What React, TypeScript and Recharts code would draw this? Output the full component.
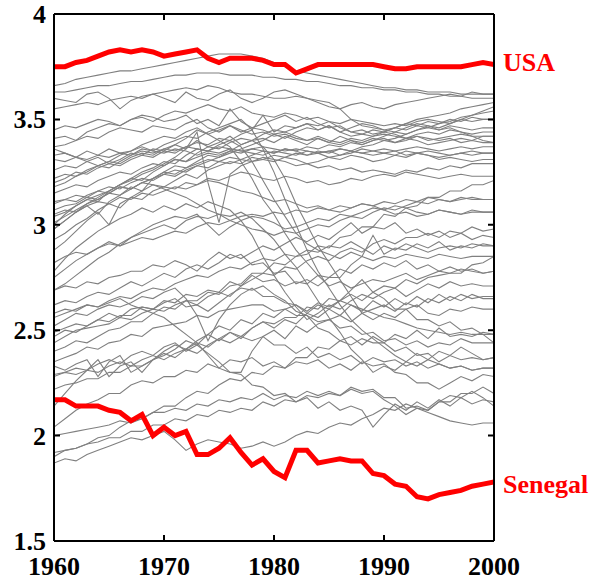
import React from "react";
import { LineChart, Line, XAxis, YAxis, LabelList, ReferenceLine } from "recharts";

const years = [
  1960, 1961, 1962, 1963, 1964, 1965, 1966, 1967, 1968, 1969,
  1970, 1971, 1972, 1973, 1974, 1975, 1976, 1977, 1978, 1979,
  1980, 1981, 1982, 1983, 1984, 1985, 1986, 1987, 1988, 1989,
  1990, 1991, 1992, 1993, 1994, 1995, 1996, 1997, 1998, 1999, 2000,
];

const usa = [
  3.75, 3.75, 3.77, 3.78, 3.8, 3.82, 3.83, 3.82, 3.83, 3.82,
  3.8, 3.81, 3.82, 3.83, 3.79, 3.77, 3.79, 3.79, 3.79, 3.78,
  3.76, 3.76, 3.72, 3.74, 3.76, 3.76, 3.76, 3.76, 3.76, 3.76,
  3.75, 3.74, 3.74, 3.75, 3.75, 3.75, 3.75, 3.75, 3.76, 3.77, 3.76,
];

const senegal = [
  2.17, 2.17, 2.14, 2.14, 2.14, 2.12, 2.11, 2.07, 2.1, 2.0,
  2.04, 2.0, 2.02, 1.91, 1.91, 1.94, 1.99, 1.92, 1.86, 1.89,
  1.83, 1.8, 1.93, 1.93, 1.87, 1.88, 1.89, 1.88, 1.88, 1.82,
  1.81, 1.77, 1.76, 1.71, 1.7, 1.72, 1.73, 1.74, 1.76, 1.77, 1.78,
];

// other countries (grey)
const c01 = [3.66,3.67,3.69,3.70,3.71,3.72,3.73,3.73,3.74,3.75,3.76,3.77,3.78,3.79,3.80,3.81,3.81,3.81,3.80,3.79,3.77,3.75,3.73,3.72,3.71,3.70,3.69,3.68,3.67,3.66,3.65,3.65,3.64,3.64,3.63,3.63,3.63,3.62,3.62,3.62,3.62];
const c02 = [3.63,3.63,3.64,3.65,3.66,3.66,3.67,3.68,3.68,3.69,3.70,3.71,3.71,3.72,3.72,3.72,3.71,3.71,3.71,3.70,3.70,3.69,3.69,3.68,3.68,3.67,3.66,3.66,3.65,3.65,3.64,3.64,3.63,3.63,3.62,3.62,3.61,3.61,3.60,3.60,3.60];
const c03 = [3.60,3.59,3.58,3.62,3.63,3.60,3.55,3.59,3.61,3.62,3.60,3.58,3.63,3.60,3.59,3.62,3.64,3.60,3.58,3.60,3.63,3.64,3.62,3.60,3.58,3.56,3.55,3.57,3.58,3.56,3.55,3.57,3.58,3.59,3.60,3.61,3.62,3.61,3.63,3.62,3.62];
const c04 = [3.55,3.56,3.57,3.58,3.57,3.59,3.60,3.61,3.60,3.62,3.63,3.64,3.65,3.64,3.66,3.65,3.63,3.62,3.62,3.61,3.60,3.60,3.61,3.60,3.59,3.58,3.55,3.50,3.47,3.46,3.45,3.46,3.48,3.50,3.51,3.52,3.53,3.55,3.56,3.57,3.58];
const c05 = [3.41,3.42,3.40,3.44,3.46,3.48,3.47,3.50,3.51,3.49,3.52,3.54,3.53,3.55,3.57,3.55,3.54,3.56,3.53,3.52,3.51,3.53,3.52,3.50,3.51,3.49,3.48,3.50,3.49,3.48,3.47,3.48,3.47,3.49,3.50,3.49,3.48,3.50,3.49,3.50,3.50];
const c06 = [3.37,3.38,3.40,3.42,3.41,3.44,3.46,3.45,3.44,3.47,3.46,3.45,3.48,3.50,3.46,3.44,3.47,3.45,3.43,3.44,3.42,3.43,3.41,3.40,3.42,3.40,3.39,3.41,3.40,3.42,3.43,3.42,3.41,3.43,3.44,3.43,3.45,3.44,3.43,3.44,3.44];
const c07 = [3.36,3.34,3.32,3.30,3.28,3.30,3.33,3.35,3.38,3.40,3.42,3.41,3.44,3.46,3.43,3.45,3.47,3.44,3.46,3.45,3.43,3.44,3.42,3.40,3.41,3.39,3.38,3.40,3.39,3.41,3.40,3.39,3.41,3.40,3.38,3.39,3.40,3.41,3.40,3.42,3.42];
const c08 = [3.31,3.30,3.32,3.31,3.33,3.32,3.34,3.33,3.35,3.34,3.36,3.35,3.37,3.36,3.35,3.37,3.36,3.35,3.36,3.37,3.36,3.35,3.36,3.35,3.34,3.35,3.36,3.35,3.34,3.35,3.36,3.35,3.36,3.37,3.36,3.35,3.36,3.37,3.36,3.37,3.37];
const c09 = [3.22,3.24,3.23,3.26,3.28,3.30,3.29,3.32,3.34,3.33,3.36,3.38,3.41,3.45,3.43,3.40,3.37,3.30,3.22,3.12,3.05,2.96,2.88,2.82,2.76,2.71,2.73,2.70,2.72,2.74,2.73,2.75,2.77,2.74,2.76,2.78,2.77,2.79,2.78,2.77,2.78];
const c10 = [3.15,3.17,3.19,3.18,3.21,3.23,3.25,3.24,3.27,3.29,3.28,3.31,3.30,3.32,3.34,3.33,3.35,3.34,3.36,3.35,3.34,3.36,3.35,3.33,3.34,3.35,3.33,3.34,3.36,3.35,3.34,3.33,3.35,3.34,3.33,3.32,3.33,3.34,3.33,3.34,3.34];
const c11 = [3.11,3.12,3.14,3.13,3.16,3.18,3.17,3.20,3.22,3.21,3.24,3.26,3.25,3.28,3.30,3.32,3.35,3.38,3.40,3.37,3.31,3.22,3.10,3.00,2.90,2.82,2.74,2.66,2.58,2.55,2.58,2.56,2.60,2.62,2.58,2.57,2.60,2.59,2.61,2.60,2.60];
const c12 = [3.07,3.09,3.10,3.13,3.12,3.15,3.18,3.17,3.20,3.22,3.24,3.23,3.26,3.28,3.27,3.30,3.29,3.31,3.30,3.32,3.31,3.30,3.28,3.29,3.27,3.28,3.26,3.27,3.25,3.26,3.25,3.24,3.26,3.25,3.27,3.26,3.28,3.27,3.29,3.29,3.29];
const c13 = [3.04,3.06,3.09,3.12,3.14,3.16,3.19,3.21,3.24,3.26,3.29,3.32,3.36,3.44,3.20,3.01,3.24,3.28,3.30,3.31,3.33,3.32,3.34,3.33,3.35,3.34,3.36,3.35,3.37,3.38,3.40,3.41,3.43,3.45,3.46,3.48,3.49,3.51,3.52,3.53,3.54];
const c14 = [3.01,3.04,3.07,3.10,3.12,3.15,3.14,3.17,3.20,3.22,3.25,3.24,3.27,3.29,3.31,3.30,3.32,3.31,3.33,3.35,3.34,3.36,3.35,3.37,3.36,3.38,3.37,3.39,3.38,3.40,3.42,3.44,3.43,3.45,3.47,3.46,3.48,3.50,3.52,3.54,3.56];
const c15 = [2.98,3.02,3.06,3.09,3.05,3.11,3.14,3.18,3.16,3.22,3.25,3.28,3.27,3.30,3.33,3.32,3.34,3.36,3.38,3.40,3.43,3.41,3.44,3.46,3.45,3.47,3.44,3.46,3.48,3.47,3.45,3.44,3.46,3.48,3.47,3.45,3.46,3.44,3.42,3.40,3.39];
const c16 = [2.93,2.96,3.00,3.03,3.07,3.10,3.08,3.13,3.16,3.19,3.18,3.21,3.24,3.22,3.26,3.28,3.30,3.29,3.32,3.31,3.30,3.32,3.31,3.29,3.30,3.32,3.31,3.33,3.32,3.30,3.31,3.33,3.32,3.34,3.33,3.31,3.32,3.31,3.30,3.31,3.31];
const c17 = [2.88,2.92,2.97,3.02,3.06,3.00,3.10,3.13,3.12,3.16,3.18,3.17,3.20,3.19,3.22,3.21,3.23,3.25,3.24,3.22,3.21,3.23,3.22,3.20,3.21,3.19,3.20,3.22,3.21,3.23,3.24,3.23,3.25,3.24,3.23,3.22,3.23,3.24,3.23,3.23,3.23];
const c18 = [2.82,2.85,2.87,2.86,2.89,2.91,2.90,2.92,2.94,2.93,2.95,2.97,2.96,2.99,3.01,3.00,3.02,3.04,3.05,3.04,3.06,3.05,3.07,3.06,3.08,3.07,3.09,3.08,3.10,3.09,3.11,3.10,3.12,3.11,3.13,3.12,3.11,3.12,3.13,3.12,3.12];
const c19 = [2.75,2.79,2.83,2.86,2.89,2.92,2.90,2.94,2.96,2.98,3.00,2.98,3.02,3.04,3.03,3.05,3.04,3.06,3.03,2.98,2.93,2.86,2.80,2.72,2.64,2.56,2.49,2.41,2.36,2.30,2.33,2.31,2.35,2.39,2.36,2.40,2.38,2.42,2.39,2.36,2.37];
const c20 = [2.69,2.72,2.76,2.80,2.84,2.87,2.91,2.94,2.97,3.00,3.02,3.04,3.03,3.05,3.00,2.95,2.99,3.02,3.04,3.03,3.01,2.98,2.99,3.01,3.03,3.02,3.05,3.04,3.06,3.08,3.07,3.09,3.08,3.06,3.05,3.07,3.06,3.05,3.07,3.06,3.06];
const c21 = [2.62,2.64,2.63,2.66,2.68,2.67,2.70,2.73,2.71,2.74,2.77,2.75,2.79,2.81,2.79,2.82,2.86,2.84,2.87,2.90,2.88,2.91,2.94,2.92,2.95,2.93,2.97,3.01,2.96,2.99,2.98,3.01,2.96,2.98,2.95,2.97,2.94,2.96,2.93,2.95,2.94];
const c22 = [2.56,2.58,2.60,2.62,2.61,2.64,2.66,2.65,2.68,2.70,2.69,2.72,2.74,2.76,2.75,2.78,2.80,2.79,2.82,2.84,2.83,2.86,2.85,2.88,2.87,2.90,2.89,2.92,2.89,2.86,2.90,2.88,2.91,2.89,2.87,2.89,2.90,2.89,2.91,2.90,2.90];
const c23 = [2.52,2.55,2.58,2.57,2.60,2.62,2.61,2.63,2.66,2.65,2.68,2.70,2.65,2.57,2.45,2.55,2.62,2.67,2.70,2.66,2.66,2.63,2.62,2.58,2.62,2.60,2.64,2.67,2.64,2.68,2.71,2.70,2.74,2.72,2.75,2.76,2.77,2.77,2.81,2.82,2.85];
const c24 = [2.49,2.51,2.53,2.52,2.55,2.58,2.56,2.60,2.61,2.60,2.63,2.65,2.61,2.62,2.59,2.63,2.67,2.70,2.69,2.71,2.67,2.64,2.59,2.57,2.51,2.49,2.45,2.47,2.43,2.47,2.44,2.48,2.46,2.50,2.46,2.51,2.47,2.48,2.47,2.49,2.48];
const c25 = [2.44,2.47,2.50,2.51,2.52,2.53,2.56,2.55,2.58,2.60,2.59,2.62,2.64,2.62,2.66,2.68,2.66,2.71,2.74,2.77,2.76,2.80,2.79,2.83,2.85,2.83,2.87,2.89,2.87,2.91,2.93,2.91,2.94,2.94,2.96,2.94,2.97,2.96,2.99,2.97,2.98];
const c26 = [2.35,2.37,2.39,2.42,2.41,2.44,2.45,2.48,2.47,2.51,2.52,2.53,2.54,2.57,2.56,2.59,2.60,2.61,2.62,2.62,2.59,2.60,2.57,2.57,2.54,2.55,2.51,2.52,2.48,2.49,2.45,2.46,2.43,2.45,2.42,2.44,2.43,2.46,2.44,2.44,2.44];
const c27 = [2.33,2.31,2.34,2.36,2.28,2.35,2.38,2.30,2.33,2.36,2.40,2.43,2.41,2.45,2.48,2.45,2.49,2.47,2.51,2.54,2.51,2.55,2.53,2.58,2.56,2.60,2.57,2.62,2.59,2.64,2.61,2.65,2.62,2.66,2.63,2.67,2.64,2.67,2.65,2.66,2.66];
const c28 = [2.29,2.30,2.29,2.31,2.30,2.33,2.35,2.33,2.36,2.38,2.36,2.39,2.41,2.39,2.43,2.46,2.44,2.47,2.45,2.47,2.43,2.43,2.39,2.42,2.37,2.39,2.36,2.38,2.34,2.37,2.35,2.36,2.33,2.35,2.32,2.34,2.32,2.33,2.31,2.32,2.32];
const c29 = [2.28,2.30,2.32,2.31,2.34,2.36,2.34,2.38,2.40,2.38,2.42,2.44,2.40,2.43,2.39,2.35,2.30,2.29,2.24,2.23,2.19,2.20,2.16,2.18,2.13,2.16,2.12,2.14,2.12,2.04,2.10,2.15,2.12,2.16,2.13,2.17,2.14,2.18,2.15,2.17,2.16];
const c30 = [2.14,2.20,2.26,2.31,2.36,2.28,2.33,2.35,2.30,2.36,2.38,2.41,2.45,2.43,2.48,2.52,2.50,2.55,2.53,2.58,2.56,2.60,2.62,2.59,2.63,2.61,2.64,2.62,2.60,2.58,2.56,2.55,2.53,2.51,2.50,2.49,2.48,2.49,2.48,2.48,2.48];
const c31 = [2.04,2.08,2.12,2.15,2.17,2.20,2.20,2.24,2.26,2.25,2.28,2.28,2.31,2.30,2.34,2.32,2.36,2.35,2.37,2.33,2.35,2.32,2.35,2.34,2.36,2.32,2.34,2.31,2.35,2.33,2.34,2.30,2.29,2.25,2.25,2.22,2.25,2.28,2.26,2.29,2.28];
const c32 = [2.00,2.01,2.02,2.03,2.04,2.05,2.07,2.06,2.08,2.11,2.11,2.13,2.12,2.15,2.14,2.17,2.16,2.18,2.17,2.20,2.17,2.19,2.18,2.21,2.19,2.21,2.19,2.23,2.21,2.22,2.18,2.18,2.13,2.14,2.12,2.16,2.19,2.18,2.21,2.18,2.14];
const c33 = [1.92,1.93,1.94,1.96,1.97,1.99,1.99,2.02,2.02,2.05,2.05,2.08,2.07,2.10,2.09,2.12,2.11,2.13,2.12,2.16,2.14,2.17,2.16,2.19,2.18,2.20,2.19,2.22,2.20,2.21,2.17,2.14,2.10,2.13,2.12,2.16,2.16,2.20,2.20,2.23,2.20];
const c34 = [1.87,1.89,1.88,1.91,1.93,1.95,1.97,1.99,1.98,2.00,2.02,1.98,1.93,1.96,1.98,1.97,1.96,1.94,1.95,1.97,1.95,1.97,2.00,2.02,2.01,2.04,2.06,2.05,2.08,2.10,2.13,2.12,2.15,2.13,2.11,2.09,2.07,2.06,2.05,2.06,2.06];
const c35 = [1.90,1.93,1.94,1.96,1.99,2.00,2.04,2.07,2.08,2.11,2.14,2.14,2.18,2.21,2.20,2.24,2.27,2.26,2.30,2.29,2.33,2.32,2.37,2.37,2.42,2.41,2.45,2.43,2.46,2.44,2.44,2.40,2.42,2.38,2.39,2.35,2.38,2.36,2.37,2.36,2.37];
const c36 = [3.00,3.05,3.09,3.12,3.11,3.16,3.19,3.22,3.21,3.25,3.28,3.31,3.30,3.34,3.37,3.36,3.39,3.41,3.40,3.43,3.45,3.44,3.46,3.48,3.47,3.49,3.46,3.44,3.45,3.43,3.44,3.46,3.45,3.47,3.46,3.45,3.47,3.46,3.45,3.46,3.46];
const c37 = [2.98,3.02,3.06,3.10,3.13,3.16,3.19,3.22,3.25,3.27,3.30,3.29,3.33,3.36,3.35,3.38,3.40,3.37,3.30,3.21,3.12,3.04,2.96,2.91,2.88,2.86,2.84,2.87,2.85,2.83,2.85,2.84,2.86,2.85,2.84,2.86,2.85,2.84,2.85,2.85,2.85];
const c38 = [3.26,3.28,3.27,3.30,3.32,3.29,3.31,3.34,3.33,3.36,3.35,3.38,3.36,3.40,3.37,3.39,3.42,3.38,3.40,3.41,3.39,3.42,3.40,3.38,3.41,3.39,3.42,3.40,3.38,3.40,3.41,3.39,3.40,3.42,3.41,3.40,3.41,3.39,3.40,3.39,3.39];
const c39 = [3.20,3.22,3.25,3.24,3.27,3.29,3.28,3.31,3.33,3.32,3.35,3.34,3.37,3.39,3.38,3.41,3.40,3.43,3.45,3.52,3.44,3.47,3.46,3.48,3.45,3.47,3.44,3.42,3.43,3.45,3.44,3.46,3.48,3.47,3.49,3.48,3.50,3.49,3.51,3.50,3.50];
const c40 = [3.05,3.07,3.06,3.09,3.11,3.10,3.13,3.12,3.15,3.14,3.16,3.18,3.17,3.19,3.21,3.20,3.18,3.16,3.15,3.13,3.11,3.12,3.10,3.08,3.09,3.07,3.06,3.08,3.10,3.09,3.07,3.05,3.06,3.04,3.05,3.07,3.06,3.05,3.06,3.06,3.06];
const c41 = [2.78,2.84,2.89,2.93,2.97,3.00,3.03,3.05,3.08,3.06,3.09,3.07,3.10,3.08,3.11,3.09,3.07,3.02,2.95,2.85,2.76,2.68,2.61,2.55,2.58,2.62,2.60,2.64,2.67,2.65,2.68,2.70,2.66,2.69,2.72,2.70,2.73,2.71,2.72,2.71,2.71];
const c42 = [2.58,2.60,2.59,2.62,2.61,2.63,2.65,2.62,2.60,2.58,2.56,2.52,2.48,2.44,2.38,2.32,2.30,2.30,2.40,2.47,2.50,2.46,2.52,2.49,2.53,2.55,2.57,2.54,2.58,2.60,2.62,2.59,2.63,2.61,2.65,2.63,2.66,2.64,2.67,2.65,2.65];
const c43 = [2.47,2.50,2.49,2.52,2.55,2.54,2.57,2.57,2.61,2.60,2.64,2.63,2.67,2.66,2.69,2.68,2.73,2.71,2.76,2.73,2.74,2.71,2.73,2.72,2.76,2.75,2.79,2.77,2.81,2.79,2.82,2.80,2.83,2.79,2.81,2.78,2.80,2.78,2.79,2.77,2.78];
const c44 = [2.40,2.42,2.45,2.44,2.47,2.50,2.51,2.54,2.54,2.58,2.61,2.60,2.64,2.64,2.68,2.67,2.71,2.72,2.77,2.77,2.82,2.81,2.85,2.86,2.90,2.89,2.94,2.95,2.99,2.99,3.05,3.04,3.08,3.09,3.13,3.13,3.16,3.16,3.19,3.19,3.21];
const c45 = [3.33,3.34,3.32,3.35,3.33,3.36,3.34,3.35,3.37,3.35,3.34,3.36,3.35,3.33,3.35,3.34,3.36,3.35,3.34,3.33,3.35,3.34,3.33,3.35,3.34,3.32,3.33,3.35,3.34,3.33,3.34,3.35,3.33,3.34,3.35,3.34,3.33,3.34,3.35,3.34,3.34];
const c46 = [3.45,3.47,3.46,3.48,3.50,3.49,3.47,3.50,3.52,3.51,3.49,3.50,3.52,3.48,3.50,3.47,3.55,3.49,3.46,3.48,3.50,3.52,3.49,3.51,3.48,3.46,3.47,3.44,3.43,3.42,3.44,3.43,3.41,3.42,3.40,3.41,3.42,3.43,3.42,3.42,3.42];
const c47 = [3.10,3.12,3.11,3.14,3.16,3.15,3.18,3.17,3.20,3.19,3.17,3.15,3.13,3.10,3.07,3.05,3.02,3.00,2.98,2.97,2.95,2.97,2.96,2.98,3.00,2.99,3.02,3.04,3.03,3.06,3.08,3.07,3.09,3.11,3.10,3.12,3.11,3.13,3.12,3.12,3.12];
const c48 = [2.22,2.24,2.25,2.27,2.27,2.30,2.30,2.33,2.33,2.36,2.39,2.37,2.41,2.44,2.42,2.46,2.49,2.46,2.51,2.54,2.53,2.56,2.56,2.61,2.60,2.65,2.64,2.69,2.74,2.68,2.65,2.60,2.60,2.55,2.55,2.52,2.54,2.50,2.51,2.48,2.44];
const c49 = [3.18,3.20,3.23,3.25,3.28,3.27,3.30,3.33,3.36,3.35,3.38,3.40,3.42,3.41,3.44,3.46,3.48,3.50,3.45,3.36,3.25,3.12,3.00,2.88,2.78,2.70,2.62,2.55,2.50,2.46,2.42,2.38,2.35,2.33,2.36,2.34,2.32,2.33,2.31,2.32,2.32];
const c50 = [2.69,2.71,2.70,2.73,2.72,2.75,2.76,2.78,2.78,2.81,2.80,2.83,2.81,2.78,2.83,2.87,2.84,2.86,2.81,2.82,2.77,2.78,2.72,2.74,2.71,2.75,2.75,2.81,2.85,2.95,2.86,2.89,2.88,2.91,2.89,2.92,2.88,2.90,2.89,2.91,2.90];

const others = [
  c01, c02, c03, c04, c05, c06, c07, c08, c09, c10,
  c11, c12, c13, c14, c15, c16, c17, c18, c19, c20,
  c21, c22, c23, c24, c25, c26, c27, c28, c29, c30,
  c31, c32, c33, c34, c35, c36, c37, c38, c39, c40,
  c41, c42, c43, c44, c45, c46, c47, c48, c49, c50,
];

const xTicks = [1960, 1970, 1980, 1990, 2000];
const yTicks = [1.5, 2, 2.5, 3, 3.5, 4];
const xInner = [1970, 1980, 1990];
const yInner = [2, 2.5, 3, 3.5];
const X0 = 1960, X1 = 2000, Y0 = 1.5, Y1 = 4;

const data = years.map((year, i) => {
  const row: Record<string, number> = { year, usa: usa[i], senegal: senegal[i] };
  others.forEach((s, k) => {
    row["c" + k] = s[i];
  });
  return row;
});

const FONT = "'Liberation Serif', 'Times New Roman', serif";
const TICK = 6;

const BottomTick = (p: any) => (
  <text x={p.x} y={p.y + 34} textAnchor="middle" fill="#000" fontSize={26} fontWeight={700} fontFamily={FONT}>
    {p.payload.value}
  </text>
);

const LeftTick = (p: any) => (
  <text x={p.x - 8} y={p.y + 9} textAnchor="end" fill="#000" fontSize={26} fontWeight={700} fontFamily={FONT}>
    {p.payload.value}
  </text>
);

// short stubs at both ends of a reference line -> inward ticks on opposite box sides
const stubs = (p: any) => {
  const { x1, y1, x2, y2 } = p;
  const len = Math.hypot(x2 - x1, y2 - y1) || 1;
  const ux = ((x2 - x1) / len) * TICK;
  const uy = ((y2 - y1) / len) * TICK;
  return (
    <path
      d={`M${x1},${y1}L${x1 + ux},${y1 + uy}M${x2},${y2}L${x2 - ux},${y2 - uy}`}
      stroke="#000"
      strokeWidth={2}
      fill="none"
    />
  );
};

const endLabel = (text: string, dy: number) => (p: any) => {
  if (p.index !== years.length - 1) return null;
  return (
    <text x={p.x + 9} y={p.y + dy} fill="#ff0000" fontSize={26} fontWeight={700} fontFamily={FONT}>
      {text}
    </text>
  );
};

const ax = { xAxisId: "b", yAxisId: "l" };

export default function App() {
  return (
    <div style={{ position: "absolute", left: 0, top: 0, width: 599, height: 583, background: "#fff" }}>
      <LineChart width={599} height={583} data={data} margin={{ top: 14, right: 105, bottom: 0, left: 0 }}>
        <XAxis
          xAxisId="b"
          dataKey="year"
          type="number"
          domain={[X0, X1]}
          ticks={xTicks}
          interval={0}
          allowDataOverflow
          height={42}
          tickSize={0}
          tickMargin={0}
          tickLine={false}
          tick={(p: any) => <BottomTick {...p} />}
          axisLine={false}
        />
        <YAxis
          yAxisId="l"
          type="number"
          domain={[Y0, Y1]}
          ticks={yTicks}
          interval={0}
          allowDataOverflow
          width={54}
          tickSize={0}
          tickMargin={0}
          tickLine={false}
          tick={(p: any) => <LeftTick {...p} />}
          axisLine={false}
        />
        {others.map((_, k) => (
          <Line
            key={k}
            {...ax}
            dataKey={"c" + k}
            stroke="#808080"
            strokeWidth={1.1}
            dot={false}
            isAnimationActive={false}
          />
        ))}
        <Line {...ax} dataKey="usa" stroke="#ff0000" strokeWidth={5} dot={false} isAnimationActive={false}>
          <LabelList dataKey="usa" content={endLabel("USA", 6)} />
        </Line>
        <Line {...ax} dataKey="senegal" stroke="#ff0000" strokeWidth={5} dot={false} isAnimationActive={false}>
          <LabelList dataKey="senegal" content={endLabel("Senegal", 11)} />
        </Line>

        {/* box */}
        <ReferenceLine {...ax} x={X0} stroke="#000" strokeWidth={2} ifOverflow="visible" />
        <ReferenceLine {...ax} x={X1} stroke="#000" strokeWidth={2} ifOverflow="visible" />
        <ReferenceLine {...ax} y={Y0} stroke="#000" strokeWidth={2} ifOverflow="visible" />
        <ReferenceLine {...ax} y={Y1} stroke="#000" strokeWidth={2} ifOverflow="visible" />

        {/* inward ticks, top+bottom and left+right */}
        {xInner.map((t) => (
          <ReferenceLine key={"xt" + t} {...ax} x={t} shape={stubs} ifOverflow="visible" />
        ))}
        {yInner.map((t) => (
          <ReferenceLine key={"yt" + t} {...ax} y={t} shape={stubs} ifOverflow="visible" />
        ))}
      </LineChart>
    </div>
  );
}
